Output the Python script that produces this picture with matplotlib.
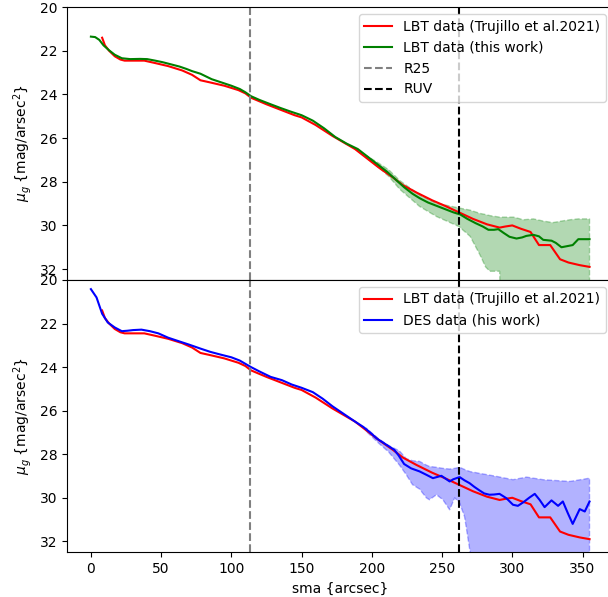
import matplotlib
matplotlib.use("Agg")
import matplotlib.pyplot as plt

# LBT profile, Trujillo et al. 2021
rx = [8, 10, 13, 17, 21, 24, 30, 38, 45, 55, 65, 72, 78, 85, 95, 105, 110, 114, 125, 135,
      145, 150, 160, 172, 180, 188, 196, 205, 215, 222, 232, 243, 252, 262, 272,
      282, 291, 295, 300, 306, 313, 319, 327, 334, 340, 348, 355]
ry = [21.4, 21.75, 22.0, 22.25, 22.4, 22.45, 22.45, 22.45, 22.55, 22.7, 22.9, 23.1, 23.35, 23.45, 23.6,
      23.8, 23.95, 24.15, 24.45, 24.7, 24.95, 25.05, 25.4, 25.9, 26.2, 26.5, 26.9, 27.35, 27.8, 28.15,
      28.5, 28.85, 29.1, 29.4, 29.7, 29.95, 30.1, 30.05, 30.0, 30.15, 30.3, 30.9, 30.9, 31.55, 31.7,
      31.82, 31.9]

# LBT profile, this work
gx = [0, 3, 6, 9, 13, 17, 22, 28, 35, 40, 45, 51, 57, 63, 68, 72, 78, 86, 93, 100,
      106, 110, 114, 120, 128, 135, 142, 150, 158, 166, 174, 182, 190, 197, 204,
      211, 217, 223, 229, 234, 240, 246, 252, 258, 263, 268, 274, 279, 283, 287,
      290, 294, 298, 303, 307, 310, 315, 319, 322, 328, 331, 335, 339, 343, 347, 351, 355]
gy = [21.35, 21.37, 21.5, 21.75, 21.98, 22.18, 22.34, 22.38, 22.37, 22.38, 22.44, 22.52, 22.62, 22.72,
      22.83, 22.93, 23.05, 23.3, 23.45, 23.6, 23.75, 23.9, 24.08, 24.25, 24.45, 24.62, 24.78, 24.95,
      25.2, 25.55, 25.95, 26.25, 26.5, 26.85, 27.2, 27.55, 27.9, 28.25, 28.55, 28.75, 28.95, 29.1,
      29.25, 29.4, 29.5, 29.7, 29.9, 30.05, 30.2, 30.2, 30.17, 30.35, 30.52, 30.6, 30.55, 30.48,
      30.43, 30.5, 30.66, 30.7, 30.8, 31.0, 30.95, 30.9, 30.63, 30.63, 30.63]
gbx = [196, 205, 212, 220, 234, 246, 262, 270, 277, 281, 284, 291, 292, 301, 308, 315, 322, 329,
       335, 341, 347, 355]
gb_up = [26.8, 27.15, 27.45, 27.95, 28.6, 28.98, 29.2, 29.3, 29.45, 29.5, 29.55, 29.62, 29.62,
         29.62, 29.74, 29.7, 29.8, 29.87, 29.8, 29.74, 29.7, 29.7]
gb_dn = [26.9, 27.35, 27.75, 28.35, 29.13, 29.59, 30.05, 30.5, 31.35, 31.9, 32.1, 32.1, 35,
         35, 35, 35, 35, 35, 35, 35, 35, 35]

# DES profile
bx = [0, 4, 8, 12, 17, 22, 26, 30, 36, 42, 48, 55, 62, 70, 78, 85, 92, 100, 106, 110,
      114, 120, 128, 136, 143, 150, 158, 165, 172, 180, 188, 194, 198, 204, 210,
      216, 219, 223, 228, 234, 239, 243.5, 249.5, 255.4, 258, 262.5, 266, 269.6, 273, 276.6,
      280, 283.7, 287, 290.9, 295.8, 300.5, 304, 308, 312, 316, 319.5, 323, 327.9, 332.6, 336,
      339.5, 343, 348, 351.6, 355]
by = [20.42, 20.8, 21.55, 21.95, 22.18, 22.35, 22.33, 22.3, 22.28, 22.35, 22.45, 22.65, 22.8, 22.97,
      23.15, 23.3, 23.42, 23.55, 23.7, 23.85, 24.0, 24.2, 24.45, 24.6, 24.8, 24.95, 25.15, 25.45,
      25.8, 26.15, 26.5, 26.75, 26.96, 27.3, 27.55, 27.8, 28.05, 28.45, 28.65, 28.79, 28.95, 29.1,
      28.99, 29.25, 29.15, 29.05, 29.2, 29.33, 29.5, 29.66, 29.8, 29.86, 29.85, 29.82, 30.02, 30.32,
      30.37, 30.2, 30.0, 29.82, 30.1, 30.43, 30.12, 30.37, 30.17, 30.7, 31.2, 30.52, 30.63, 30.17]
bbx = [196, 205, 212, 219.7, 224.5, 229, 234, 238.8, 241, 246, 250.6, 255.4, 259, 262.5, 266,
       270, 272, 276, 289, 300.5, 310, 322, 341, 355]
bb_up = [26.8, 27.3, 27.6, 27.85, 28.2, 28.3, 28.33, 28.5, 28.56, 28.6, 28.65, 28.68, 28.65, 28.6,
         28.7, 28.8, 28.82, 28.87, 29.02, 29.17, 29.05, 29.17, 29.25, 29.1]
bb_dn = [26.95, 27.5, 27.9, 28.5, 28.94, 29.4, 29.6, 30.0, 30.09, 29.86, 30.09, 30.55, 30.0, 30.24,
         30.86, 32.5, 35, 35, 35, 35, 35, 35, 35, 35]

r25 = 113.5
ruv = 262

fig = plt.figure(figsize=(6.08, 5.97), dpi=100)
ax1 = fig.add_axes([0.110, 0.531, 0.898, 0.457])
ax2 = fig.add_axes([0.110, 0.075, 0.898, 0.456], sharex=ax1)

ax1.plot(rx, ry, color='red', label='LBT data (Trujillo et al.2021)')
ax1.plot(gx, gy, color='green', label='LBT data (this work)')
ax1.fill_between(gbx, gb_up, gb_dn, color='green', alpha=0.3, linestyle='--')
ax1.axvline(r25, color='gray', linestyle='--', label='R25')
ax1.axvline(ruv, color='black', linestyle='--', label='RUV')
ax1.legend(loc='upper right')

ax2.plot(rx, ry, color='red', label='LBT data (Trujillo et al.2021)')
ax2.plot(bx, by, color='blue', label='DES data (his work)')
ax2.fill_between(bbx, bb_up, bb_dn, color='blue', alpha=0.3, linestyle='--')
ax2.axvline(r25, color='gray', linestyle='--')
ax2.axvline(ruv, color='black', linestyle='--')
ax2.legend(loc='upper right')

for ax in (ax1, ax2):
    ax.set_ylim(32.5, 20)
    ax.set_yticks([20, 22, 24, 26, 28, 30, 32])
    ax.set_ylabel(r'$\mu_g$ {mag/arsec$^2$}')
ax1.set_xlim(-17.1, 371.6)
ax1.tick_params(labelbottom=False)
ax2.set_xlabel('sma {arcsec}')

fig.savefig('out.png', dpi=100)
